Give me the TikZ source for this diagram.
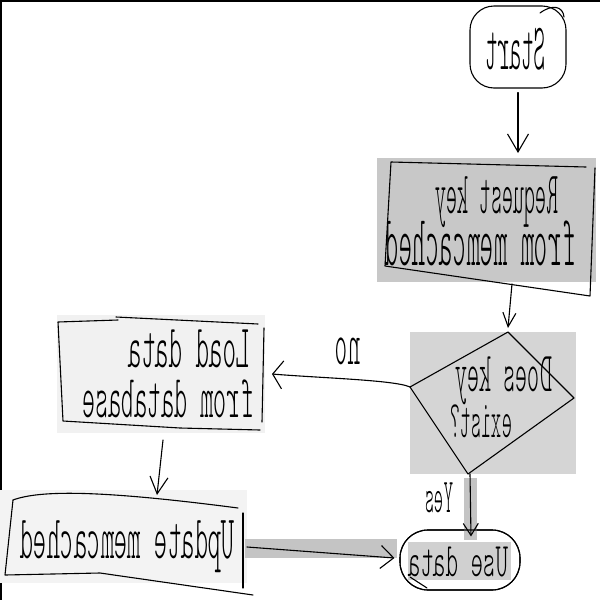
\documentclass[tikz,border=0pt]{standalone}
\usepackage{fontspec}
\setmainfont{Liberation Sans}
\newfontfamily\handfont{lmmonolt10-regular.otf}
\usepackage{graphicx}
\usetikzlibrary{arrows.meta,calc}
\newcommand\mirtxt[3]{\reflectbox{\resizebox*{#1}{#2}{\handfont #3}}}
\definecolor{reqgray}{HTML}{C8C8C8}
\definecolor{diagray}{HTML}{D5D5D5}
\definecolor{loadgray}{HTML}{F1F1F1}
\definecolor{updgray}{HTML}{F3F3F3}
\definecolor{bandgray}{HTML}{C4C4C4}
\definecolor{usegray}{HTML}{D0D0D0}
\tikzset{
  hand/.style={line width=1.1pt, line cap=round, line join=round, draw=black},
  lbl/.style={inner sep=0pt, outer sep=0pt},
  bgbox/.style={inner sep=0pt, outer sep=0pt, draw=none},
}
\begin{document}
\begin{tikzpicture}[x=1pt,y=-1pt]
\useasboundingbox (0,0) rectangle (600,600);
\fill[white] (0,0) rectangle (600,600);
\draw[line width=2pt] (0.5,600) -- (0.5,0.5) -- (600,0.5);

% backgrounds
\node[bgbox, fill=reqgray, minimum width=219pt, minimum height=124pt] (req) at (486.5,220) {};
\node[bgbox, fill=diagray, minimum width=166pt, minimum height=142pt] (dia) at (493,403) {};
\node[bgbox, fill=loadgray, minimum width=208pt, minimum height=118pt] (load) at (161,374) {};
\node[bgbox, fill=updgray, minimum width=247pt, minimum height=93pt] (upd) at (123.5,536.5) {};

% start
\node[hand, rounded corners=24pt, minimum width=96pt, minimum height=82pt] (start) at (518,47) {};
\draw[hand] (540,13) .. controls (552,4) and (563,6) .. (564,17);

% use data
\node[hand, fill=white, rounded corners=28pt, minimum width=120pt, minimum height=60pt] (use) at (460,560) {};
\fill[bandgray] (245,539) rectangle (397,558);
\fill[bandgray] (464,478) rectangle (477,540);
\fill[usegray] (408,542) rectangle (511,580);
\draw[hand, rounded corners=28pt] (400,530) rectangle (520,590);
\draw[hand] (410,577) -- (427,588);

% hand-drawn outlines
\draw[hand] (586,167) -- (391,162) -- (385,266) -- (590,296) -- (595,168);
\draw[hand] (410,387) -- (508,332) -- (574,398) -- (468,474) -- cycle;
\draw[hand] (58,322) -- (118,320) (116,317) -- (258,324) (264,328) -- (262,422)
            (58,322) -- (63,421) -- (180,428) -- (260,430);
\draw[hand] (13,500) .. controls (40,490) and (100,490) .. (238,508);
\draw[hand] (13,500) -- (5,575) -- (100,573) -- (253,595);
\draw[hand] (243,513) -- (243,588);

% texts
\node[lbl] (tstart) at (515,49) {\mirtxt{60pt}{42pt}{Start}};
\node[lbl] (treq1) at (496.5,202.5) {\mirtxt{123pt}{51pt}{Request key}};
\node[lbl] (treq2) at (480,243.5) {\mirtxt{190pt}{45pt}{from memcached}};
\node[lbl] (tdia1) at (503.5,381) {\mirtxt{97pt}{48pt}{Does key}};
\node[lbl] (tdia2) at (481,421.5) {\mirtxt{62pt}{33pt}{exist?}};
\node[lbl] (tno) at (347.5,351.5) {\mirtxt{25pt}{27pt}{no}};
\node[lbl] (tload1) at (189,349) {\mirtxt{122pt}{38pt}{Load data}};
\node[lbl] (tload2) at (167.5,399) {\mirtxt{171pt}{38pt}{from database}};
\node[lbl] (tupd) at (127.5,547) {\mirtxt{215pt}{52pt}{Update memcached}};
\node[lbl] (tyes) at (439,498) {\mirtxt{28pt}{30pt}{Yes}};
\node[lbl] (tuse) at (458,562) {\mirtxt{100pt}{30pt}{Use data}};

% connectors
\draw[hand, -{Straight Barb[length=18pt,width=21pt]}, shorten >=5pt]
  ([yshift=-4pt]start.south) -- (start.south |- req.north);
\draw[hand, -{Straight Barb[length=14pt,width=13pt]}]
  ([xshift=25.5pt,yshift=-2pt]req.south) -- ([xshift=15pt,yshift=4pt]dia.north);
\draw[hand, -{Straight Barb[length=10pt,width=28pt]}]
  ([yshift=16pt]dia.west) .. controls (395,380) and (320,378) .. ([xshift=7pt]load.east);
\draw[hand, -{Straight Barb[length=17pt,width=18pt]}]
  ([xshift=2pt,yshift=-7pt]load.south) -- ([xshift=33.5pt,yshift=-5pt]upd.north);
\draw[hand, -{Straight Barb[length=13pt,width=23pt]}]
  ([yshift=-10.5pt]upd.east) -- ([xshift=-5pt,yshift=2pt]use.west);
\draw[hand, -{Straight Barb[length=12pt,width=15pt]}]
  ([xshift=-23pt]dia.south) -- ([xshift=11pt,yshift=-7pt]use.north);
\end{tikzpicture}
\end{document}
